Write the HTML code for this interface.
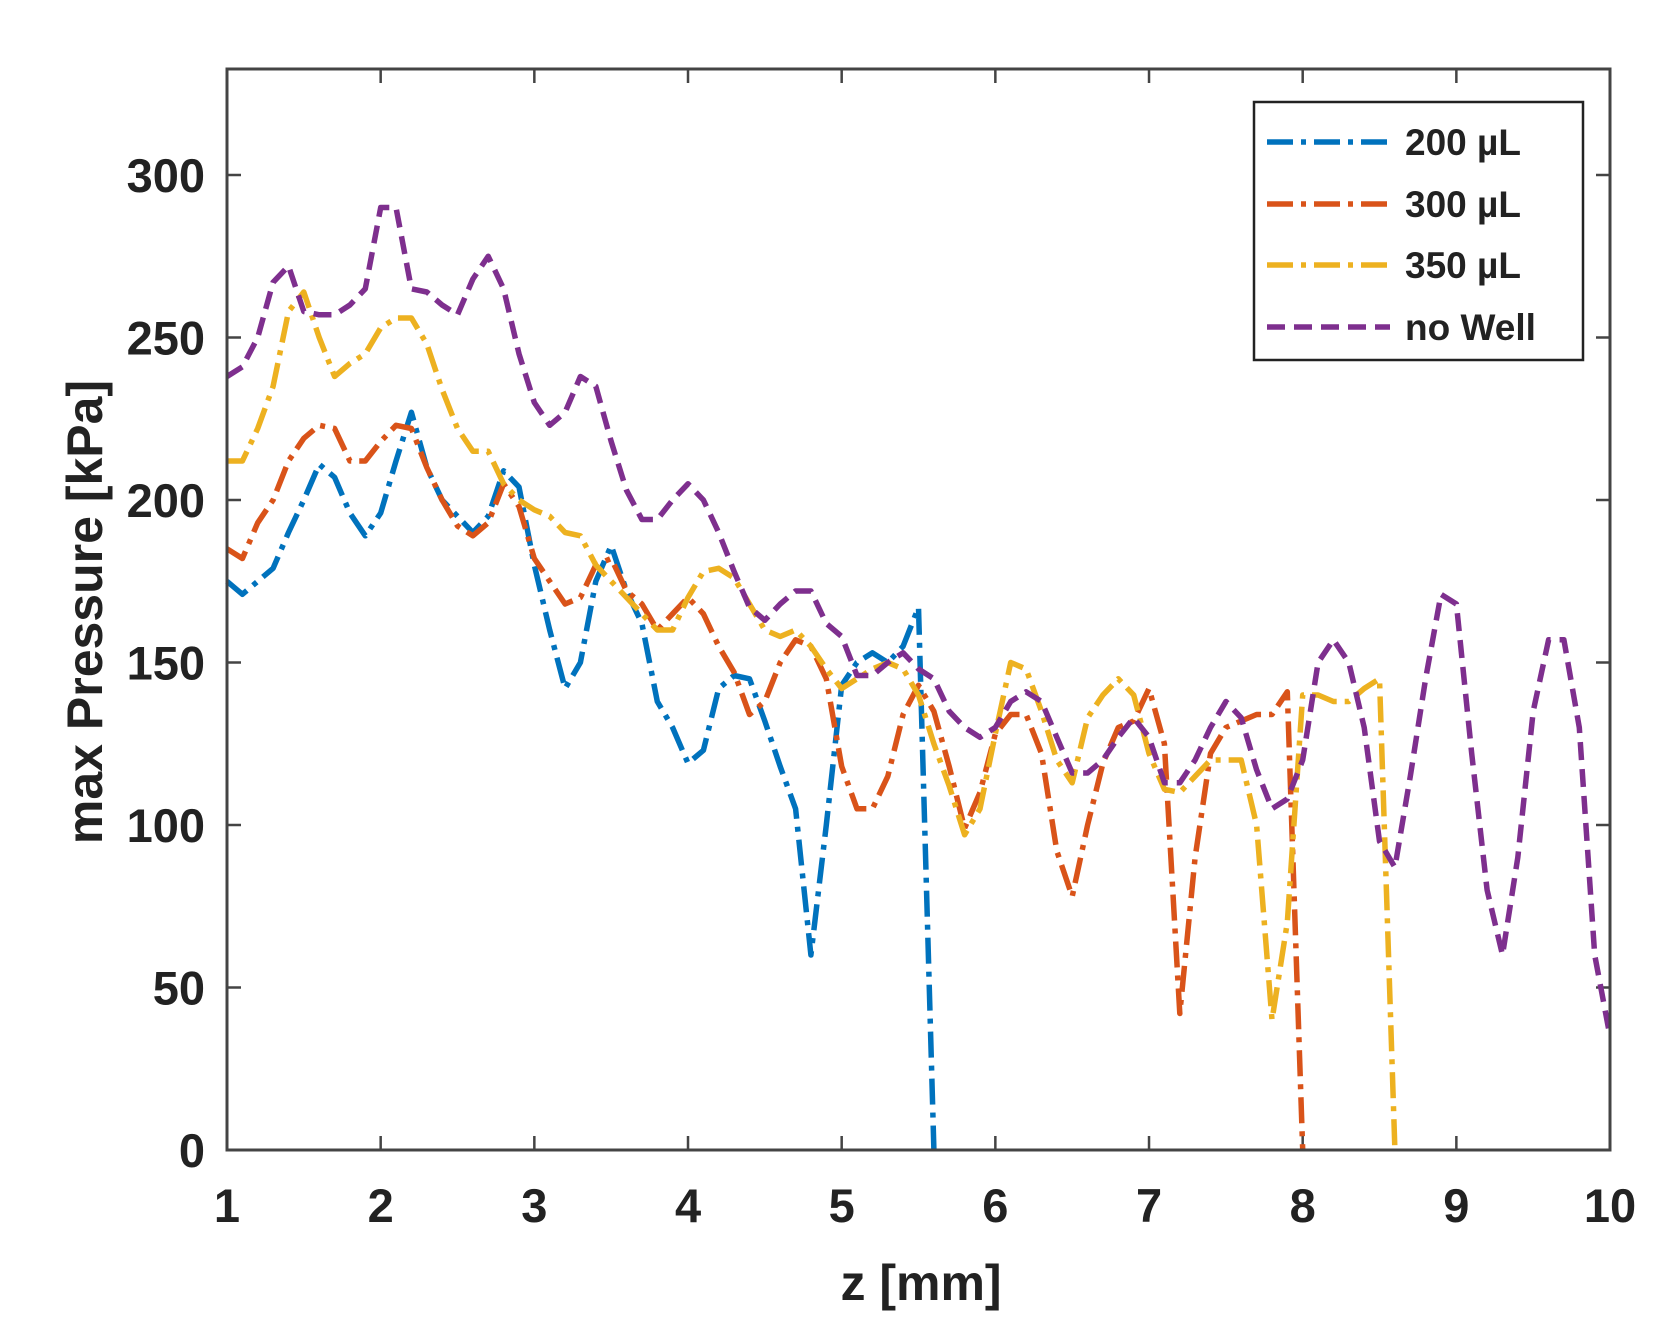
<!DOCTYPE html>
<html><head><meta charset="utf-8"><style>
html,body{margin:0;padding:0;background:#fff;}
svg{display:block;font-family:"Liberation Sans",Arial,sans-serif;font-weight:bold;}
</style></head><body>
<svg id="s" width="1675" height="1325" viewBox="0 0 1675 1325" xmlns="http://www.w3.org/2000/svg">
<rect width="1675" height="1325" fill="#fff"/>
<g id="ticks" stroke="#444" stroke-width="2.5"></g>
<g id="lines" fill="none" stroke-width="5.5" stroke-linejoin="round"></g>
<rect x="227" y="69" width="1383" height="1081" fill="none" stroke="#444" stroke-width="3"/>
<g id="labels" fill="#222" font-size="47"></g>
<text x="921" y="1300" text-anchor="middle" font-size="50" fill="#222">z [mm]</text>
<text transform="translate(102,612) rotate(-90)" text-anchor="middle" font-size="50" fill="#222">max Pressure [kPa]</text>
<rect x="1254" y="102" width="329" height="258" fill="#fff" stroke="#222" stroke-width="2.5"/>
<g stroke-width="5.5" fill="none">
<line x1="1267" y1="142" x2="1390" y2="142" stroke="#0072BD" stroke-dasharray="26,8,5,8"/>
<line x1="1267" y1="204" x2="1390" y2="204" stroke="#D95319" stroke-dasharray="26,8,5,8"/>
<line x1="1267" y1="265" x2="1390" y2="265" stroke="#EDB120" stroke-dasharray="26,8,5,8"/>
<line x1="1267" y1="327" x2="1390" y2="327" stroke="#7E2F8E" stroke-dasharray="18,9"/>
</g>
<g font-size="37" fill="#222">
<text x="1405" y="155">200 µL</text>
<text x="1405" y="217">300 µL</text>
<text x="1405" y="278">350 µL</text>
<text x="1405" y="340">no Well</text>
</g>
</svg>
<script>
var X=function(v){return 227+(v-1)*153.67;},Y=function(v){return 1150-v*3.25;};
var NS="http://www.w3.org/2000/svg";
function el(p,t,a,txt){var e=document.createElementNS(NS,t);for(var k in a)e.setAttribute(k,a[k]);if(txt)e.textContent=txt;p.appendChild(e);}
var tk=document.getElementById('ticks'),lb=document.getElementById('labels');
for(var i=1;i<=10;i++){var x=X(i);el(tk,'line',{x1:x,y1:1150,x2:x,y2:1136});el(tk,'line',{x1:x,y1:69,x2:x,y2:83});
el(lb,'text',{x:x,y:1222,'text-anchor':'middle'},String(i));}
for(var v=0;v<=300;v+=50){var y=Y(v);el(tk,'line',{x1:227,y1:y,x2:241,y2:y});el(tk,'line',{x1:1610,y1:y,x2:1596,y2:y});
el(lb,'text',{x:205,y:y+17,'text-anchor':'end'},String(v));}
var S=[
["#0072BD","26,8,5,8",1,[175,171,175,179,190,200,211,207,196,189,196,212,227,210,200,195,190,195,209,204,180,160,142,150,175,186,172,162,138,130,119,123,142,146,145,132,118,105,60,100,143,150,153,150,155,167,0]],
["#D95319","26,8,5,8",1,[185,182,193,200,212,219,223,222,212,212,218,223,222,210,200,192,189,193,205,198,182,175,168,170,180,182,172,168,160,165,170,165,155,147,134,138,150,157,155,145,118,105,105,115,134,143,135,118,99,110,128,134,134,122,92,78,100,119,130,132,142,125,42,90,122,130,132,134,134,141,0]],
["#EDB120","26,8,5,8",1,[212,212,222,235,258,264,250,238,242,245,253,256,256,248,234,222,215,215,205,200,197,195,190,189,180,175,170,165,160,160,170,178,179,176,168,160,158,160,155,148,142,145,148,150,148,140,125,112,97,105,128,150,148,135,120,113,133,140,145,140,122,111,110,115,120,120,120,100,40,70,140,140,138,138,142,145,0]],
["#7E2F8E","18,9",1,[238,241,250,267,272,258,257,257,260,265,290,290,265,264,260,257,268,275,265,245,230,223,227,238,235,218,203,194,194,200,205,200,190,178,167,163,168,172,172,162,158,146,146,150,153,148,145,135,130,127,130,138,141,138,127,116,116,120,127,133,127,113,113,120,130,138,133,117,105,108,120,150,157,150,130,95,87,115,145,171,168,122,80,60,90,135,157,157,130,60,35]]
];
var g=document.getElementById('lines');
S.forEach(function(s){var d="";s[3].forEach(function(v,j){d+=(j?"L":"M")+X(1+j*0.1).toFixed(1)+","+Y(v).toFixed(1);});
el(g,'path',{d:d,stroke:s[0],'stroke-dasharray':s[1]});});
</script>
</body></html>
